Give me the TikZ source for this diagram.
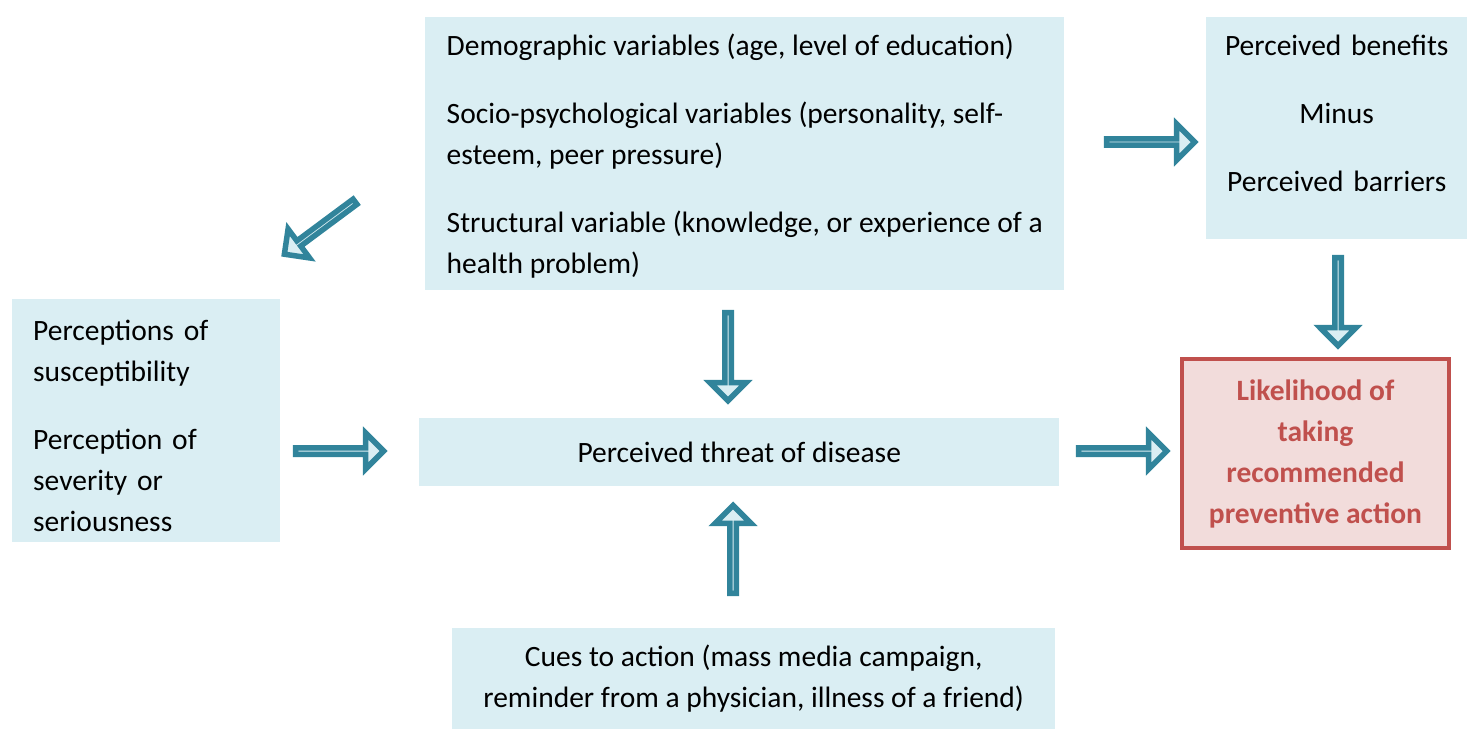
\documentclass[tikz,border=0pt]{standalone}
\usepackage{fontspec}
\setmainfont{Carlito}
\usepackage{xcolor}
\usetikzlibrary{shapes.arrows}
\definecolor{hbmfill}{HTML}{DAEEF3}
\definecolor{hbmline}{HTML}{31849B}
\definecolor{hbmredfill}{HTML}{F2DCDB}
\definecolor{hbmred}{HTML}{C0504D}
\tikzset{
    every node/.style={font=\fontsize{29.5}{41}\selectfont},
    hbmbox/.style={fill=hbmfill, anchor=north west, inner xsep=21pt, inner ysep=0pt},
    hbmout/.style={fill=hbmredfill, draw=hbmred, line width=4pt, anchor=north west,
        text=hbmred, align=center, inner sep=0pt, font=\fontsize{29.5}{41}\selectfont\bfseries},
    hbmarrow/.style={single arrow, draw=hbmline, fill=hbmfill, line width=5.5pt,
        minimum height=88pt, minimum width=36pt, single arrow head extend=12.5pt, inner sep=0pt},
}
\begin{document}
\begin{tikzpicture}[x=1pt,y=-1pt]
    \useasboundingbox (0,0) rectangle (1467,731);
    % boxes
    \node[hbmbox, minimum width=639pt, minimum height=273pt, align=left] (demo) at (425,17)
        {\rule{0pt}{27pt}Demographic variables (age, level of education)\\[27pt]
         Socio-psychological variables (personality, self-\\esteem, peer pressure)\\[27pt]
         Structural variable (knowledge, or experience of a\\health problem)};
    \node[hbmbox, minimum width=261pt, minimum height=222pt, text width=241pt,
        inner xsep=10pt, align=center] (benefit) at (1206,17)
        {Perceived benefits\\[27pt]Minus\\[27pt]Perceived barriers\rule[-29pt]{0pt}{0pt}};
    \node[hbmbox, minimum height=243pt, text width=226pt, align=left] (percep) at (12,299)
        {\rule{0pt}{31pt}Perceptions of\\susceptibility\\[27pt]Perception of\\severity or\\seriousness};
    \node[hbmbox, minimum width=640pt, minimum height=68pt, align=center] (threat) at (419,418)
        {Perceived threat of disease};
    \node[hbmbox, minimum width=603pt, minimum height=101pt, align=center] (cues) at (452,628)
        {Cues to action (mass media campaign,\\reminder from a physician, illness of a friend)};
    \node[hbmout, minimum width=267pt, minimum height=189pt] (likely) at (1180,357)
        {Likelihood of\\taking\\recommended\\preventive action};
    % block arrows
    \node[hbmarrow] (toBenefit) at (1149,142) {};
    \node[hbmarrow, rotate=216.6] (toPercep) at (321,227) {};
    \node[hbmarrow, rotate=270] (toThreatTop) at (728,355) {};
    \node[hbmarrow, rotate=90] (toThreatBottom) at (733,551) {};
    \node[hbmarrow, rotate=270] (toLikelyTop) at (1338,300) {};
    \node[hbmarrow] (toThreatLeft) at (338,451) {};
    \node[hbmarrow] (toLikely) at (1121,451) {};
\end{tikzpicture}
\end{document}
